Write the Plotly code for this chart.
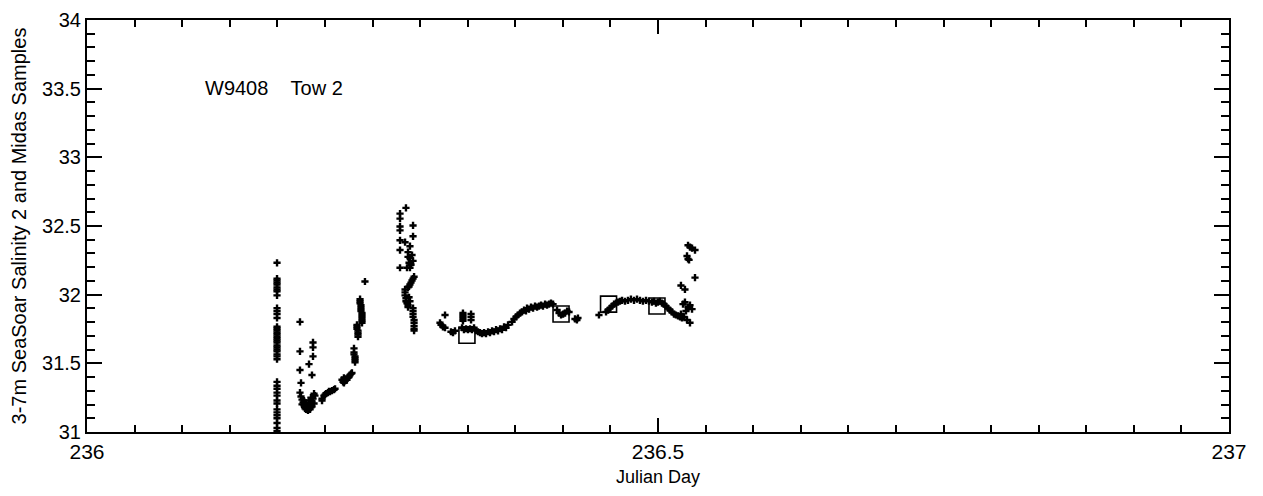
import plotly.graph_objects as go

# ---- data ----
seasoar_day = [
    # first vertical profile
    236.1664, 236.1664, 236.1664, 236.1664, 236.1664, 236.1664, 236.1664, 236.1664, 236.1664,
    236.1664, 236.1664, 236.1664, 236.1664, 236.1664, 236.1664, 236.1664, 236.1664, 236.1664,
    236.1664, 236.1664, 236.1664, 236.1664, 236.1664, 236.1664, 236.1664, 236.1664, 236.1664,
    236.1664, 236.1664, 236.1664, 236.1664, 236.1664, 236.1664, 236.1664, 236.1664, 236.1664,
    236.1664, 236.1664, 236.1664, 236.1664, 236.1664, 236.1664, 236.1664,
    # low cluster
    236.1865, 236.1865, 236.1865, 236.1874, 236.1979, 236.1979, 236.1979, 236.1944, 236.1970,
    236.1865, 236.1874, 236.1883, 236.1892, 236.1900, 236.1909, 236.1918, 236.1927, 236.1935,
    236.1944, 236.1953, 236.1961, 236.1970, 236.1979, 236.1988, 236.1996, 236.1900, 236.1918,
    236.1935, 236.1953, 236.1970, 236.1988, 236.1883, 236.1944, 236.1961,
    # rising
    236.2058, 236.2058, 236.2075, 236.2093, 236.2110, 236.2128, 236.2145, 236.2163, 236.2172,
    236.2084, 236.2119,
    236.2233, 236.2242, 236.2250, 236.2259, 236.2268, 236.2276, 236.2285, 236.2294, 236.2303,
    236.2312, 236.2320, 236.2250,
    236.2338, 236.2338, 236.2338, 236.2347, 236.2347, 236.2347, 236.2347,
    236.2364, 236.2364, 236.2364, 236.2373, 236.2373, 236.2373, 236.2373,
    236.2391, 236.2391, 236.2391, 236.2399, 236.2399, 236.2399, 236.2399, 236.2408, 236.2408,
    236.2408, 236.2408, 236.2408, 236.2408,
    236.2434,
    # peak
    236.2793, 236.2741, 236.2741, 236.2855, 236.2741, 236.2741, 236.2855, 236.2741, 236.2785,
    236.2828, 236.2741, 236.2811, 236.2846, 236.2828, 236.2855, 236.2741, 236.2802, 236.2828,
    236.2811, 236.2820, 236.2837,
    236.2864, 236.2855, 236.2846, 236.2837, 236.2828, 236.2820, 236.2811,
    236.2785, 236.2785, 236.2785, 236.2793, 236.2793, 236.2802, 236.2811, 236.2811, 236.2828,
    236.2820,
    236.2855, 236.2855, 236.2855, 236.2855, 236.2864, 236.2864, 236.2864, 236.2864, 236.2864,
    # plateau 1
    236.3135, 236.3091, 236.3100, 236.3117, 236.3135, 236.3205, 236.3187, 236.3222,
    236.3292, 236.3292, 236.3292, 236.3292, 236.3292, 236.3363, 236.3363, 236.3363,
    236.3284, 236.3301, 236.3319, 236.3336, 236.3354, 236.3371, 236.3389, 236.3406, 236.3424,
    236.3441,
    236.3459, 236.3477, 236.3494, 236.3512, 236.3529, 236.3547, 236.3564, 236.3582, 236.3599,
    236.3617, 236.3634, 236.3652, 236.3669, 236.3687,
    236.3722, 236.3739, 236.3757, 236.3774, 236.3792, 236.3809, 236.3827, 236.3844,
    236.3853, 236.3871, 236.3888, 236.3906, 236.3923, 236.3941, 236.3958, 236.3976, 236.3993,
    236.4011, 236.4028, 236.4046, 236.4063, 236.4081,
    236.4116, 236.4134, 236.4151, 236.4169, 236.4186, 236.4204, 236.4221,
    236.4273, 236.4290, 236.4299,
    # plateau 2
    236.4483,
    236.4545, 236.4562, 236.4580, 236.4597, 236.4615, 236.4632, 236.4650,
    236.4667, 236.4685, 236.4711, 236.4737, 236.4763, 236.4790, 236.4816, 236.4842, 236.4868,
    236.4895, 236.4921, 236.4947, 236.4965, 236.4982, 236.5000, 236.5017, 236.5035, 236.5052,
    236.5070, 236.5087, 236.5105, 236.5122, 236.5140, 236.5157, 236.5175, 236.5193, 236.5210,
    236.5228, 236.5201,
    236.5245, 236.5263, 236.5280, 236.5219, 236.5236, 236.5298, 236.5280, 236.5254,
    236.5201, 236.5236, 236.5324, 236.5263, 236.5280, 236.5298, 236.5324, 236.5254, 236.5263,
    236.5272,
]

seasoar_salinity = [
    32.232, 32.117, 32.103, 32.088, 32.074, 32.053, 32.038, 32.024, 31.995,
    31.902, 31.881, 31.859, 31.830, 31.766, 31.752, 31.738, 31.723, 31.709,
    31.694, 31.680, 31.666, 31.652, 31.630, 31.616, 31.601, 31.587, 31.565,
    31.551, 31.530, 31.365, 31.337, 31.315, 31.287, 31.265, 31.229, 31.208,
    31.165, 31.143, 31.122, 31.100, 31.065, 31.030, 31.007,
    31.802, 31.587, 31.451, 31.358, 31.652, 31.616, 31.551, 31.494, 31.415,
    31.287, 31.258, 31.236, 31.215, 31.194, 31.172, 31.165, 31.186, 31.158,
    31.172, 31.201, 31.180, 31.222, 31.243, 31.208, 31.265, 31.229, 31.208,
    31.194, 31.165, 31.186, 31.279, 31.201, 31.229, 31.250,
    31.229, 31.243, 31.265, 31.280, 31.287, 31.294, 31.301, 31.308, 31.315,
    31.272, 31.296,
    31.380, 31.365, 31.358, 31.372, 31.387, 31.380, 31.394, 31.401, 31.415,
    31.423, 31.430, 31.394,
    31.609, 31.580, 31.565, 31.551, 31.537, 31.523, 31.508,
    31.780, 31.766, 31.752, 31.738, 31.723, 31.709, 31.694,
    31.967, 31.952, 31.938, 31.924, 31.909, 31.895, 31.881, 31.866, 31.852,
    31.838, 31.823, 31.809, 31.795,
    32.096,
    32.632, 32.590, 32.554, 32.504, 32.496, 32.468, 32.425, 32.396, 32.382,
    32.353, 32.325, 32.310, 32.289, 32.267, 32.246, 32.196, 32.196, 32.196,
    32.275, 32.232, 32.218,
    32.131, 32.117, 32.103, 32.088, 32.074, 32.060, 32.053,
    32.038, 32.017, 31.995, 31.974, 31.952, 31.938, 31.924, 31.909, 31.952,
    31.981,
    31.902, 31.881, 31.859, 31.838, 31.816, 31.795, 31.773, 31.752, 31.738,
    31.852, 31.795, 31.780, 31.766, 31.759, 31.723, 31.730, 31.737,
    31.866, 31.852, 31.838, 31.823, 31.809, 31.859, 31.838, 31.816,
    31.759, 31.745, 31.752, 31.745, 31.752, 31.745, 31.759, 31.738, 31.730,
    31.723,
    31.716, 31.723, 31.716, 31.730, 31.723, 31.737, 31.730, 31.745, 31.737,
    31.752, 31.745, 31.766, 31.759, 31.780,
    31.802, 31.823, 31.838, 31.852, 31.866, 31.874, 31.888, 31.881,
    31.902, 31.895, 31.909, 31.902, 31.916, 31.909, 31.916, 31.924, 31.916,
    31.931, 31.924, 31.931, 31.938, 31.931,
    31.888, 31.866, 31.852, 31.859, 31.866, 31.881, 31.874,
    31.823, 31.816, 31.830,
    31.852,
    31.874, 31.888, 31.902, 31.916, 31.931, 31.938, 31.945,
    31.952, 31.959, 31.952, 31.959, 31.967, 31.959, 31.967, 31.959, 31.952,
    31.959, 31.952, 31.945, 31.952, 31.938, 31.945, 31.952, 31.938, 31.931,
    31.916, 31.902, 31.888, 31.874, 31.859, 31.852, 31.845, 31.838, 31.830,
    31.838, 31.859,
    31.881, 31.909, 31.924, 31.931, 31.945, 31.895, 31.795, 31.816,
    32.067, 32.038, 32.124, 32.360, 32.346, 32.339, 32.325, 32.282, 32.260,
    32.253,
]

midas_day = [236.3327, 236.4151, 236.4567, 236.4991]
midas_salinity = [31.705, 31.859, 31.931, 31.917]

x_tick_values = [236, 236.5, 237]
x_tick_labels = ["236", "236.5", "237"]

FONT = "Liberation Sans, Arial, Helvetica, sans-serif"

fig = go.Figure()
fig.add_trace(go.Scatter(
    x=seasoar_day, y=seasoar_salinity, mode="markers",
    marker=dict(symbol="cross", size=6, color="black", line=dict(width=0)),
    showlegend=False, name="SeaSoar",
))
fig.add_trace(go.Scatter(
    x=midas_day, y=midas_salinity, mode="markers",
    marker=dict(symbol="square-open", size=16, color="black", line=dict(width=1.6, color="black")),
    showlegend=False, name="Midas",
))

fig.add_annotation(
    x=236.102, y=33.506, xref="x", yref="y",
    text="W9408\u00a0\u00a0\u00a0\u00a0Tow 2", showarrow=False,
    xanchor="left", yanchor="middle",
    font=dict(family=FONT, size=20, color="black"),
)

# page body has an 8px margin, so the figure is sized to fit the 1263x496 window
fig.update_layout(
    width=1255, height=488,
    margin=dict(l=79, r=34, t=12, b=64, autoexpand=False),
    plot_bgcolor="white", paper_bgcolor="white",
    font=dict(family=FONT, color="black"),
)
fig.update_xaxes(
    range=[236, 237], tickmode="array", tickvals=x_tick_values, ticktext=x_tick_labels,
    ticks="inside", ticklen=14, tickwidth=2, tickcolor="black",
    showline=True, linecolor="black", linewidth=2, mirror="ticks",
    showgrid=False, zeroline=False, automargin=False, ticklabeloverflow="allow",
    tickfont=dict(size=21, family=FONT, color="black"),
    minor=dict(tickmode="linear", tick0=236, dtick=1/24, ticks="inside", ticklen=7,
               tickwidth=1.5, tickcolor="black", showgrid=False),
    title=dict(text="Julian Day", font=dict(size=18, family=FONT, color="black"), standoff=8),
)
fig.update_yaxes(
    range=[31, 34], tickmode="linear", tick0=31, dtick=0.5,
    ticks="inside", ticklen=15, tickwidth=2, tickcolor="black",
    showline=True, linecolor="black", linewidth=2, mirror="ticks",
    showgrid=False, zeroline=False, automargin=False, ticklabeloverflow="allow",
    tickfont=dict(size=20, family=FONT, color="black"),
    minor=dict(tickmode="linear", tick0=31, dtick=0.1, ticks="inside", ticklen=8,
               tickwidth=1.5, tickcolor="black", showgrid=False),
    title=dict(text="3-7m SeaSoar Salinity 2 and Midas Samples",
               font=dict(size=20, family=FONT, color="black"), standoff=14),
)

fig.write_html("out.html")
